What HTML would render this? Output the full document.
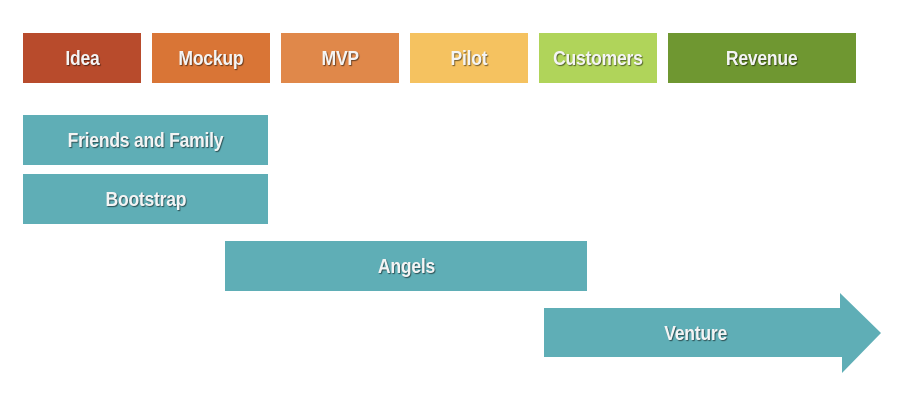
<!DOCTYPE html>
<html><head><style>
body{margin:0;width:897px;height:401px;background:#fff;position:relative;overflow:hidden;font-family:"Liberation Sans",sans-serif;}
.b{position:absolute;display:flex;align-items:center;justify-content:center;color:#f4f4f4;font-weight:bold;font-size:20px;letter-spacing:-0.3px;text-shadow:1px 1px 1px rgba(0,0,0,0.55);}
.b span{display:inline-block;transform:scaleX(0.88);margin-top:2px;white-space:nowrap;}
.t{background:#5faeb6;}
</style></head><body>
<div class="b" style="left:23px;top:33px;width:118px;height:50px;background:#b84b2c"><span>Idea</span></div>
<div class="b" style="left:152px;top:33px;width:118px;height:50px;background:#d97536"><span>Mockup</span></div>
<div class="b" style="left:281px;top:33px;width:118px;height:50px;background:#e0884a"><span>MVP</span></div>
<div class="b" style="left:410px;top:33px;width:118px;height:50px;background:#f5c260"><span>Pilot</span></div>
<div class="b" style="left:539px;top:33px;width:118px;height:50px;background:#b0d45a"><span>Customers</span></div>
<div class="b" style="left:668px;top:33px;width:188px;height:50px;background:#6f9731"><span>Revenue</span></div>
<div class="b t" style="left:23px;top:115px;width:245px;height:50px"><span>Friends and Family</span></div>
<div class="b t" style="left:23px;top:174px;width:245px;height:50px"><span>Bootstrap</span></div>
<div class="b t" style="left:225px;top:241px;width:362px;height:50px"><span>Angels</span></div>
<svg style="position:absolute;left:0;top:0" width="897" height="401"><polygon points="544,308 840,308 840,293 881,333 842,373 842,357 544,357" fill="#5faeb6"/></svg>
<div class="b" style="left:544px;top:308px;width:304px;height:50px"><span>Venture</span></div>
</body></html>
